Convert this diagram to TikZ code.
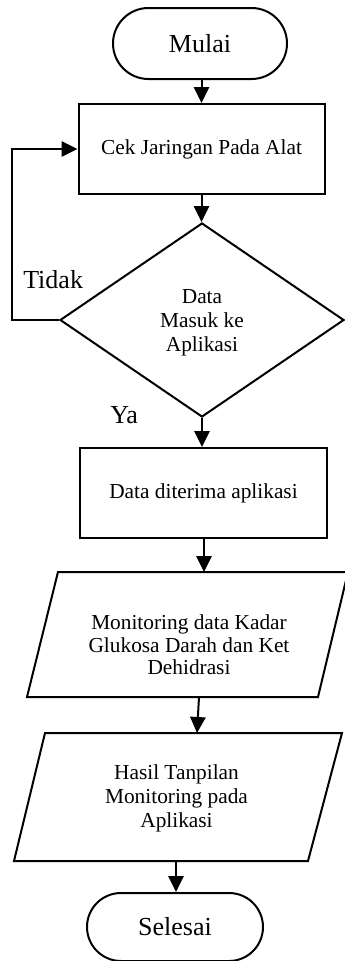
\documentclass[tikz,border=0pt]{standalone}
\usepackage{fontspec}
\setmainfont{Liberation Serif}
\usetikzlibrary{arrows.meta,shapes.geometric,shapes.misc}
\tikzset{
  base/.style={draw=black, line width=1.5pt, inner sep=0pt, align=center},
  term/.style={base, rounded rectangle, font=\fontsize{19.5}{22}\selectfont},
  procbox/.style={base, rectangle, font=\fontsize{16}{18}\selectfont},
  decis/.style={base, diamond, font=\fontsize{16}{18}\selectfont},
  txt/.style={inner sep=0pt, align=center, font=\fontsize{16}{18}\selectfont},
  lbl/.style={inner sep=0pt, font=\fontsize{19.5}{22}\selectfont},
  arr/.style={line width=1.5pt, -{Triangle[length=12pt,width=11.5pt]}},
  shapeline/.style={line width=1.5pt, line join=miter}
}
\begin{document}
\begin{tikzpicture}[x=0.75pt,y=-0.75pt]
\useasboundingbox (0,0) rectangle (345,961);
% nodes
\node[term, minimum width=130.5pt, minimum height=53.25pt] (mulai) at (200,43.5) {Mulai};
\node[procbox, minimum width=184.5pt, minimum height=67.5pt] (cek) at (201.5,149) {Cek Jaringan Pada Alat};
\node[decis, minimum width=213pt, minimum height=145.5pt] (dec) at (202,320) {};
\node[txt] (dectext) at (202,323) {Data\\Masuk ke\\Aplikasi};
\node[procbox, minimum width=185.25pt, minimum height=67.5pt] (terima) at (203.5,493) {Data diterima aplikasi};
% parallelogram 1
\draw[shapeline] (58,572) -- (348,572) -- (318,697) -- (27,697) -- cycle;
\coordinate (p1t) at (204,572);
\coordinate (p1b) at (199,697);
\node[txt, font=\fontsize{16}{17}\selectfont] (mon) at (189,645) {Monitoring data Kadar\\Glukosa Darah dan Ket\\Dehidrasi};
% parallelogram 2
\draw[shapeline] (45,733) -- (342,733) -- (308,861) -- (14,861) -- cycle;
\coordinate (p2t) at (197,733);
\coordinate (p2b) at (176,861);
\node[txt] (hasil) at (176.5,798) {Hasil Tanpilan\\Monitoring pada\\Aplikasi};
\node[term, minimum width=132pt, minimum height=51pt] (selesai) at (175,927) {Selesai};
% labels
\node[lbl, anchor=base west] (tidak) at (23,288) {Tidak};
\node[lbl, anchor=base west] (ya) at (110,423) {Ya};
% connectors
\coordinate (loop) at (12,320);
\draw[arr] (cek.north |- mulai.south) -- (cek.north);
\draw[arr] (cek.south) -- (cek.south |- dec.north);
\draw[arr, line join=miter] (dec.west) -- (loop) |- (cek.west);
\draw[arr] (dec.south) -- (dec.south |- terima.north);
\draw[arr] (p1t |- terima.south) -- (p1t);
\draw[arr] (p1b) -- (p2t);
\draw[arr] (p2b) -- (p2b |- selesai.north);
\end{tikzpicture}
\end{document}
